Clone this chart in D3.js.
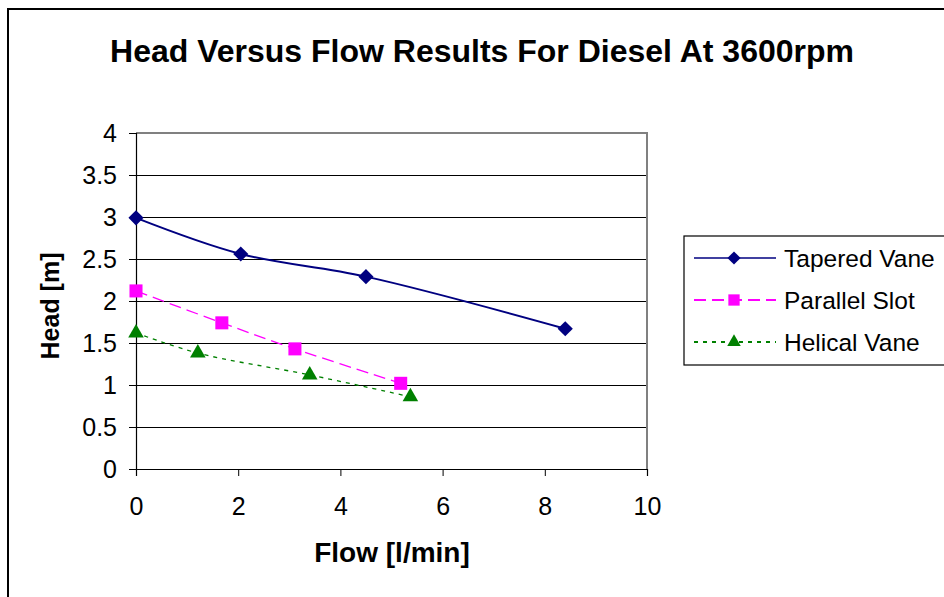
<!DOCTYPE html>
<html>
<head>
<meta charset="utf-8">
<script src="https://cdn.jsdelivr.net/npm/d3@7"></script>
<style>
  body { margin: 0; background: #fff; }
  svg { display: block; font-family: "Liberation Sans", Arial, sans-serif; }
</style>
</head>
<body>
<div class="canvas"></div>
<script>
// Data
const seriesNames = ['Tapered Vane', 'Parallel Slot', 'Helical Vane']
const taperedFlow = [0, 2.05, 4.5, 8.4]
const taperedHead = [2.99, 2.56, 2.29, 1.67]
const parallelFlow = [0, 1.68, 3.11, 5.18]
const parallelHead = [2.12, 1.74, 1.43, 1.02]
const helicalFlow = [0, 1.21, 3.4, 5.37]
const helicalHead = [1.62, 1.38, 1.12, 0.86]
const xTicks = [0, 2, 4, 6, 8, 10]
const yTicks = [0, 0.5, 1, 1.5, 2, 2.5, 3, 3.5, 4]

const series = [
    {name: seriesNames[0], flow: taperedFlow, head: taperedHead, color: '#000080', dash: null, width: 2, symbol: d3.symbolSquare, rot: 45, size: 115},
    {name: seriesNames[1], flow: parallelFlow, head: parallelHead, color: '#ff00ff', dash: '12,6', width: 1.3, symbol: d3.symbolSquare, rot: 0, size: 170},
    {name: seriesNames[2], flow: helicalFlow, head: helicalHead, color: '#008000', dash: '4,5', width: 1.3, symbol: d3.symbolTriangle, rot: 0, size: 105}
]

const width = 944, height = 597
const svg = d3.select('.canvas')
    .append('svg')
        .attr('width', width)
        .attr('height', height)

// outer frame
svg.append('rect')
    .attr('x', 8).attr('y', 9)
    .attr('width', 980).attr('height', 640)
    .attr('fill', 'none')
    .attr('stroke', '#000')
    .attr('stroke-width', 2)

// Title
svg.append('text')
    .attr('x', 482).attr('y', 62)
    .attr('text-anchor', 'middle')
    .attr('font-size', 32)
    .attr('font-weight', 'bold')
    .text('Head Versus Flow Results For Diesel At 3600rpm')

const plot = {left: 136, right: 647, top: 133, bottom: 469}

const x = d3.scaleLinear().domain([0, 10]).range([plot.left, plot.right])
const y = d3.scaleLinear().domain([0, 4]).range([plot.bottom, plot.top])

// Gridlines
svg.append('g')
    .selectAll('line')
    .data(yTicks.filter(d => d > 0 && d < 4))
    .enter()
    .append('line')
        .attr('x1', plot.left).attr('x2', plot.right)
        .attr('y1', d => y(d)).attr('y2', d => y(d))
        .attr('stroke', '#000')
        .attr('stroke-width', 1)
        .attr('shape-rendering', 'crispEdges')

// plot border (grey top & right)
svg.append('path')
    .attr('d', `M${plot.left},${plot.top}H${plot.right}V${plot.bottom}`)
    .attr('fill', 'none')
    .attr('stroke', '#808080')
    .attr('stroke-width', 1.5)
    .attr('shape-rendering', 'crispEdges')

// Axes
const xAxis = d3.axisBottom(x).tickValues(xTicks).tickSize(7).tickPadding(21)
const yAxis = d3.axisLeft(y).tickValues(yTicks).tickSize(7).tickPadding(12)
    .tickFormat(d => d)

const gx = svg.append('g')
    .attr('transform', `translate(0, ${plot.bottom})`)
    .call(xAxis)
const gy = svg.append('g')
    .attr('transform', `translate(${plot.left}, 0)`)
    .call(yAxis)

;[gx, gy].forEach(g => {
    g.selectAll('path').attr('stroke', '#000').attr('stroke-width', 1.2)
    g.selectAll('line').attr('stroke', '#000')
    g.selectAll('text')
        .attr('font-size', 25)
        .attr('fill', '#000')
        .attr('font-family', '"Liberation Sans", Arial, sans-serif')
})

// Axis titles
svg.append('text')
    .attr('x', 392).attr('y', 562)
    .attr('text-anchor', 'middle')
    .attr('font-size', 28)
    .attr('font-weight', 'bold')
    .text('Flow [l/min]')

svg.append('text')
    .attr('transform', `translate(59, 306) rotate(-90)`)
    .attr('text-anchor', 'middle')
    .attr('font-size', 25)
    .attr('font-weight', 'bold')
    .text('Head [m]')

// Lines
const line = d3.line()
    .x(d => x(d[0]))
    .y(d => y(d[1]))
    .curve(d3.curveCatmullRom.alpha(0.5))

series.forEach(s => {
    const pts = s.flow.map((f, i) => [f, s.head[i]])
    svg.append('path')
        .datum(pts)
        .attr('d', line)
        .attr('fill', 'none')
        .attr('stroke', s.color)
        .attr('stroke-width', s.width)
        .attr('stroke-dasharray', s.dash)

    svg.append('g')
        .selectAll('path')
        .data(pts)
        .enter()
        .append('path')
            .attr('transform', d => `translate(${x(d[0])}, ${y(d[1])}) rotate(${s.rot})`)
            .attr('d', d3.symbol().type(s.symbol).size(s.size))
            .attr('fill', s.color)
})

// Legend
const legend = svg.append('g').attr('transform', 'translate(684, 236)')
legend.append('rect')
    .attr('width', 280).attr('height', 129)
    .attr('fill', '#fff')
    .attr('stroke', '#000')
    .attr('stroke-width', 1.2)

series.forEach((s, i) => {
    const ly = 22 + i * 42
    legend.append('line')
        .attr('x1', 10).attr('x2', 92)
        .attr('y1', ly).attr('y2', ly)
        .attr('stroke', s.color)
        .attr('stroke-width', s.width === 2 ? 1.6 : 2)
        .attr('stroke-dasharray', s.dash)
    legend.append('path')
        .attr('transform', `translate(50, ${ly}) rotate(${s.rot})`)
        .attr('d', d3.symbol().type(s.symbol).size(s.size * 0.75))
        .attr('fill', s.color)
    legend.append('text')
        .attr('x', 100).attr('y', ly + 9)
        .attr('font-size', 24.5)
        .text(s.name)
})
</script>
</body>
</html>
